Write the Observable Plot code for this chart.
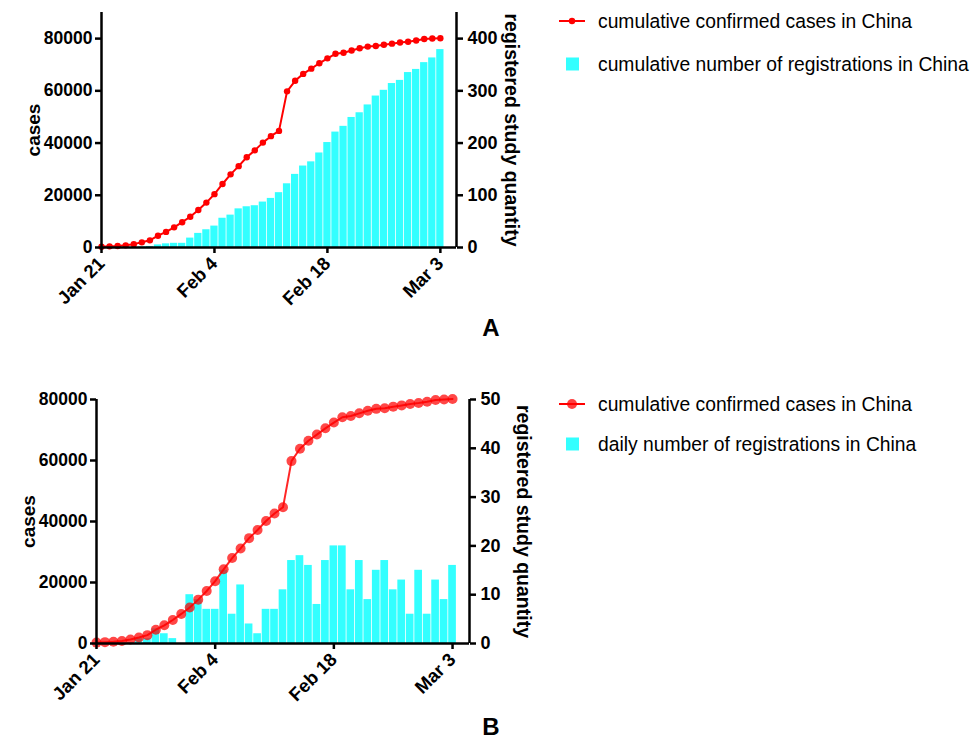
<!DOCTYPE html>
<html><head><meta charset="utf-8">
<script src="https://cdn.jsdelivr.net/npm/d3@7"></script>
<script src="https://cdn.jsdelivr.net/npm/@observablehq/plot@0.6"></script>
<style>
body{margin:0;background:#fff;}
#wrap{position:relative;width:972px;height:740px;overflow:hidden;font-family:"Liberation Sans",Arial,sans-serif;}
.panel{position:absolute;left:0;}
.panel svg{overflow:visible;}
#legend{position:absolute;left:0;top:0;}
</style></head><body><div id="wrap"></div>
<script>
// ---- data ----
const dates = ["2020-01-21","2020-01-22","2020-01-23","2020-01-24","2020-01-25","2020-01-26","2020-01-27","2020-01-28","2020-01-29","2020-01-30","2020-01-31",
"2020-02-01","2020-02-02","2020-02-03","2020-02-04","2020-02-05","2020-02-06","2020-02-07","2020-02-08","2020-02-09","2020-02-10","2020-02-11","2020-02-12","2020-02-13","2020-02-14","2020-02-15","2020-02-16","2020-02-17","2020-02-18","2020-02-19","2020-02-20","2020-02-21","2020-02-22","2020-02-23","2020-02-24","2020-02-25","2020-02-26","2020-02-27","2020-02-28","2020-02-29",
"2020-03-01","2020-03-02","2020-03-03"];
const cases = [291,440,571,830,1287,1975,2744,4515,5974,7711,9692,
11791,14380,17205,20438,24324,28018,31161,34546,37198,40171,42638,44653,59804,63851,66492,68500,70548,72436,74185,74576,75465,76288,76936,77150,77658,78064,78497,78824,79251,
79824,80026,80151];
const dailyRegistrations = [0,0,0,0,0,1,1,3,2,1,0,
10,9,7,7,15,6,12,4,2,7,7,11,17,18,16,8,17,20,20,11,17,9,15,17,11,13,6,15,6,
13,9,16];
const cumulativeRegistrations = [0,0,0,0,0,1,2,5,7,8,8,
18,27,34,41,56,62,74,78,80,87,94,105,122,140,156,164,181,201,221,232,249,258,273,290,301,314,320,335,341,
354,363,379];
const dateTicks = ["2020-01-21","2020-02-04","2020-02-18","2020-03-03"];
const dateTickLabels = ["Jan 21","Feb 4","Feb 18","Mar 3"];
const casesTicks = [0,20000,40000,60000,80000];
const cumRegTicks = [0,100,200,300,400];
const dailyRegTicks = [0,10,20,30,40,50];
const leftTitle = "cases";
const rightTitle = "registered study quantity";
const legendA = ["cumulative confirmed cases in China","cumulative number of registrations in China"];
const legendB = ["cumulative confirmed cases in China","daily number of registrations in China"];
const panelLabels = ["A","B"];

const FONT = '"Liberation Sans", Arial, Helvetica, sans-serif';
const CYAN = "#33ffff";

function makePanel(o) {
  const factor = 80000 / o.regTicks[o.regTicks.length - 1];
  const data = dates.map((d, i) => ({date: new Date(d), cases: cases[i], reg: o.reg[i]}));
  const HALF = 12 * 3600 * 1000;
  const x0 = new Date("2020-01-21"), x1 = new Date("2020-03-05");
  const fmtDate = d => dateTickLabels[dateTicks.indexOf(d.toISOString().slice(0, 10))];
  return Plot.plot({
    width: 560, height: o.height,
    marginTop: o.mt, marginBottom: o.mb, marginLeft: o.ml, marginRight: o.mr,
    style: {fontFamily: FONT, fontSize: "18px", fontWeight: "bold", color: "black", overflow: "visible", background: "transparent"},
    x: {type: "utc", domain: [x0, x1]},
    y: {domain: [0, o.yMax]},
    marks: [
      Plot.rectY(data.filter(d => d.reg > 0), {
        x1: d => new Date(+d.date - HALF), x2: d => new Date(+d.date + HALF),
        y1: 0, y2: d => d.reg * factor, fill: CYAN, insetLeft: 0.4, insetRight: 0.4
      }),
      Plot.line(data, {x: "date", y: "cases", stroke: "red", strokeWidth: 2, strokeOpacity: o.lineOpacity}),
      Plot.dot(data, {x: "date", y: "cases", r: o.dotR, fill: "red", fillOpacity: o.dotOpacity, stroke: "none"}),
      Plot.ruleX([x0], {y1: 0, y2: o.yMax, stroke: "black", strokeWidth: 2.5}),
      Plot.ruleX([x1], {y1: 0, y2: o.yMax, stroke: "black", strokeWidth: 2.5}),
      Plot.ruleY([0], {x1: x0, x2: x1, stroke: "black", strokeWidth: 2.5}),
      Plot.axisY(casesTicks, {anchor: "left", tickSize: 6, tickPadding: 3, strokeWidth: 2.5, label: null, fontSize: 17.5, fontWeight: "bold", tickFormat: d => String(d)}),
      Plot.axisY(o.regTicks.map(v => v * factor), {anchor: "right", tickSize: 6, tickPadding: 5, strokeWidth: 2.5, label: null, fontSize: 18, fontWeight: "bold", tickFormat: v => String(Math.round(v / factor))}),
      Plot.axisX(dateTicks.map(d => new Date(d)), {anchor: "bottom", tickSize: 6, tickPadding: 7, strokeWidth: 2.5, tickRotate: -45, label: null, fontSize: 18.5, fontWeight: "bold", tickFormat: fmtDate}),
      Plot.text([leftTitle], {frameAnchor: "left", textAnchor: "middle", lineAnchor: "middle", rotate: -90, dx: o.leftDx, fontSize: 19, fontWeight: "bold", fill: "black"}),
      Plot.text([rightTitle], {frameAnchor: "right", textAnchor: "middle", lineAnchor: "middle", rotate: 90, dx: o.rightDx, fontSize: 19.5, fontWeight: "bold", fill: "black"})
    ]
  });
}

const wrap = document.getElementById("wrap");

const pa = makePanel({reg: cumulativeRegistrations, regTicks: cumRegTicks, yMax: 90000,
  height: 340, mt: 12, mb: 93, ml: 101, mr: 104, dotR: 3.2, dotOpacity: 1, lineOpacity: 1, leftDx: -68, rightDx: 55});
const da = document.createElement("div"); da.className = "panel"; da.style.top = "0px"; da.appendChild(pa); wrap.appendChild(da);

const pb = makePanel({reg: dailyRegistrations, regTicks: dailyRegTicks, yMax: 80000,
  height: 360, mt: 19, mb: 97, ml: 96, mr: 91, dotR: 5, dotOpacity: 0.72, lineOpacity: 0.85, leftDx: -68, rightDx: 54});
const db = document.createElement("div"); db.className = "panel"; db.style.top = "380px"; db.appendChild(pb); wrap.appendChild(db);

// ---- legends and panel letters ----
const svg = d3.create("svg").attr("id", "legend").attr("width", 972).attr("height", 740)
  .style("font-family", FONT);
function legend(y1, y2, labels, dotR, dotOpacity) {
  const g = svg.append("g");
  g.append("line").attr("x1", 559).attr("x2", 585).attr("y1", y1).attr("y2", y1).attr("stroke", "red").attr("stroke-width", 2);
  g.append("circle").attr("cx", 572).attr("cy", y1).attr("r", dotR).attr("fill", "red").attr("fill-opacity", dotOpacity);
  g.append("text").attr("x", 598).attr("y", y1).attr("dy", "0.35em").attr("font-size", 19.3).text(labels[0]);
  g.append("rect").attr("x", 566).attr("y", y2 - 6.5).attr("width", 13).attr("height", 13).attr("fill", CYAN);
  g.append("text").attr("x", 598).attr("y", y2).attr("dy", "0.35em").attr("font-size", 19.3).text(labels[1]);
}
legend(21, 64, legendA, 3.2, 1);
legend(404, 444, legendB, 5, 0.75);
svg.append("text").attr("x", 491).attr("y", 328).attr("dy", "0.35em").attr("text-anchor", "middle").attr("font-size", 24).attr("font-weight", "bold").text(panelLabels[0]);
svg.append("text").attr("x", 491).attr("y", 727).attr("dy", "0.35em").attr("text-anchor", "middle").attr("font-size", 24).attr("font-weight", "bold").text(panelLabels[1]);
wrap.appendChild(svg.node());
</script>
</body></html>
